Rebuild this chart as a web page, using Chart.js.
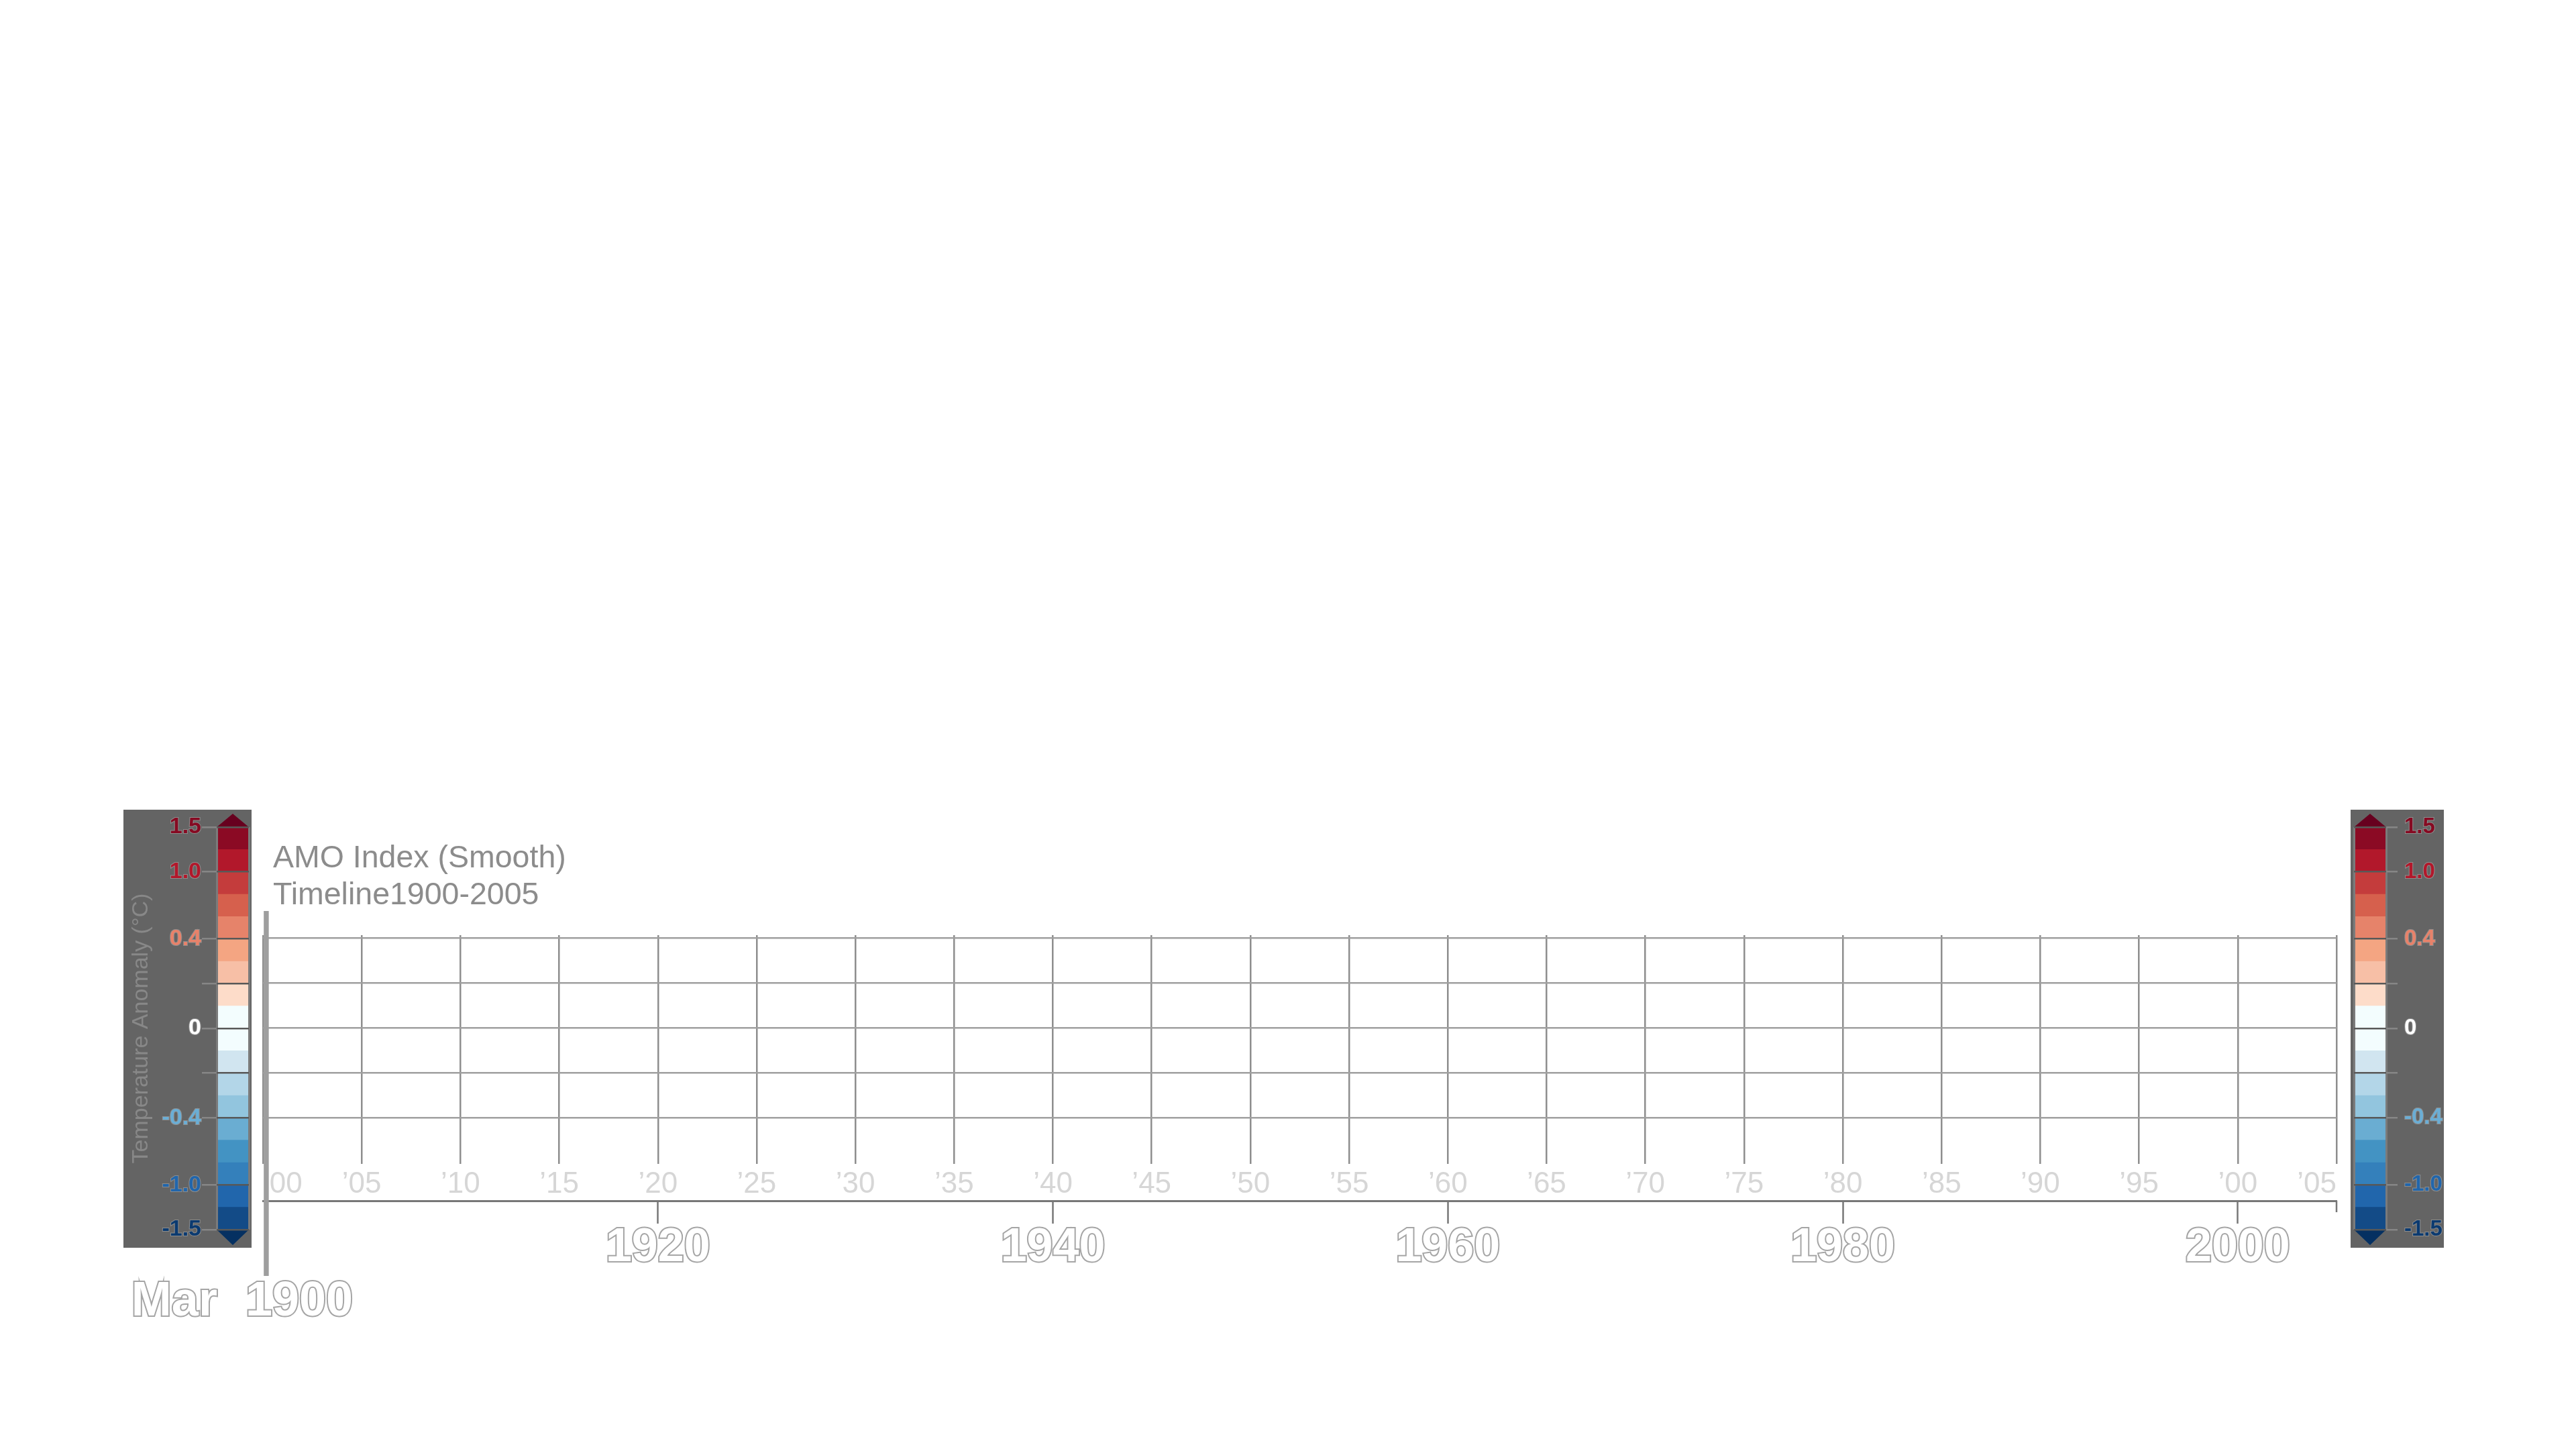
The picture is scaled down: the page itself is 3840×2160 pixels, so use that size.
<!DOCTYPE html>
<html>
<head>
<meta charset="utf-8">
<title>AMO Index (Smooth)</title>
<script src="https://cdn.jsdelivr.net/npm/chart.js@4.4.1/dist/chart.umd.min.js"></script>
<style>
    html, body { margin: 0; padding: 0; background: #ffffff; }
    body { width: 3840px; height: 2160px; position: relative; overflow: hidden; }
    canvas { position: absolute; }
    #mainChart { left: 0; top: 0; }
    .cbar { background: #646464; }
    #cbLeft { left: 184px; top: 1207px; }
    #cbRight { left: 3504px; top: 1207px; }
</style>
</head>
<body>
<canvas id="mainChart" width="3840" height="2160"></canvas>
<canvas id="cbLeft" class="cbar" width="191" height="653"></canvas>
<canvas id="cbRight" class="cbar" width="139" height="653"></canvas>
<script>
// Textes du graphique
const titleText = 'AMO Index (Smooth)';
const subtitleText = 'Timeline1900-2005';
const cbTitle = 'Temperature Anomaly (°C)';

// Axe du temps
const startYear = 1900;
const endYear = 2005;
const majorYears = [1920, 1940, 1960, 1980, 2000];
const gridValues = [-0.4, -0.2, 0, 0.2, 0.4];

// Image courante de l'animation : mars 1900
const currentMonth = 'Mar';
const currentMonthIndex = 2;
const currentYear = 1900;

// Série AMO : rien n'est encore tracé à cette date
const amoTimes = [];
const amoValues = [];

// Échelle de couleurs (de bas en haut)
const cbBounds = [-1.5, -1.25, -1.0, -0.8, -0.6, -0.4, -0.3, -0.2, -0.1, 0, 0.1, 0.2, 0.3, 0.4, 0.6, 0.8, 1.0, 1.25, 1.5];
const cbColors = ['#134b87', '#2166ac', '#3480bb', '#4393c3', '#6aadd2', '#92c5de', '#b3d6e8', '#d1e5f0', '#f3fdfe',
                  '#f3fdfe', '#fddcc9', '#f7bfa6', '#f4a582', '#e6836a', '#d6604d', '#c43c3c', '#b2182b', '#8b0a24'];
const cbUnderColor = '#053061';
const cbOverColor = '#67001f';
const cbTickValues = [-1.5, -1.0, -0.4, -0.2, 0, 0.2, 0.4, 1.0, 1.5];
const cbTickLabels = ['-1.5', '-1.0', '-0.4', '', '0', '', '0.4', '1.0', '1.5'];
const cbTickColors = ['#0b3a70', '#2166ac', '#6aaed6', '#ffffff', '#ffffff', '#ffffff', '#e8826a', '#b2182b', '#860a22'];

const fontFamily = "'Liberation Sans', Arial, Helvetica, sans-serif";
Chart.defaults.font.family = fontFamily;

// Triangles aux deux bouts de l'échelle
const colorbarEnds = {
    id: 'colorbarEnds',
    afterDatasetsDraw(chart) {
        const { ctx, chartArea, scales } = chart;
        const yTop = scales.y.getPixelForValue(cbBounds.length - 1);
        const yBottom = scales.y.getPixelForValue(0);
        const mid = (chartArea.left + chartArea.right) / 2;
        ctx.save();
        ctx.fillStyle = cbOverColor;
        ctx.beginPath();
        ctx.moveTo(chartArea.left, yTop);
        ctx.lineTo(mid, yTop - 20);
        ctx.lineTo(chartArea.right, yTop);
        ctx.closePath();
        ctx.fill();
        ctx.fillStyle = cbUnderColor;
        ctx.beginPath();
        ctx.moveTo(chartArea.left, yBottom);
        ctx.lineTo(mid, yBottom + 23);
        ctx.lineTo(chartArea.right, yBottom);
        ctx.closePath();
        ctx.fill();
        ctx.restore();
    }
};

// Fonction pour créer une barre de couleurs
function createColorbar(canvasId, side) {
    const isLeft = side === 'left';
    return new Chart(document.getElementById(canvasId), {
        type: 'bar',
        data: {
            labels: [''],
            datasets: cbColors.map((color, i) => ({
                data: [[i, i + 1]],
                backgroundColor: color,
                borderWidth: 0,
                barPercentage: 1,
                categoryPercentage: 1,
                grouped: false
            }))
        },
        options: {
            responsive: false,
            animation: false,
            events: [],
            layout: {
                padding: isLeft ? { left: 0, right: 4, top: 26, bottom: 27 } : { left: 5, right: 0, top: 26, bottom: 27 }
            },
            plugins: { legend: { display: false }, tooltip: { enabled: false } },
            scales: {
                x: {
                    type: 'category',
                    offset: true,
                    grid: { offset: true, color: '#7b7b7b', lineWidth: 3, drawTicks: false, z: 1 },
                    border: { display: false },
                    ticks: { display: false },
                    afterFit: s => { s.height = 0; }
                },
                y: {
                    type: 'linear',
                    position: side,
                    min: 0,
                    max: cbBounds.length - 1,
                    afterBuildTicks: s => { s.ticks = cbTickValues.map(v => ({ value: cbBounds.indexOf(v) })); },
                    afterFit: s => {
                        s.width = isLeft ? 139 : 86;
                        // pas de marge en plus pour les étiquettes : la barre garde la même hauteur des deux côtés
                        s.paddingTop = 0;
                        s.paddingBottom = 0;
                    },
                    grid: {
                        color: '#585858', lineWidth: 2.5, z: 1,
                        drawTicks: true, tickLength: isLeft ? 22 : 17, tickColor: '#868686', tickWidth: 2.5
                    },
                    border: { display: false },
                    ticks: {
                        autoSkip: false,
                        callback: (v, i) => cbTickLabels[i],
                        color: c => cbTickColors[c.index],
                        font: { size: isLeft ? 34 : 33, weight: 'bold' },
                        padding: isLeft ? 1 : 10,
                        textStrokeColor: 'rgba(175,175,175,0.55)',
                        textStrokeWidth: 2
                    },
                    title: {
                        display: isLeft,
                        text: cbTitle,
                        color: '#888888',
                        font: { size: 34 },
                        padding: { top: 6, bottom: 0 }
                    }
                }
            }
        },
        plugins: [colorbarEnds]
    });
}

// Titre, curseur du temps et date courante
const timelinePlugin = {
    id: 'timeline',
    afterDraw(chart) {
        const { ctx, chartArea: area, scales: { x, x2 } } = chart;
        ctx.save();
        ctx.font = `46.5px ${fontFamily}`;
        ctx.fillStyle = '#8c8c8c';
        ctx.textBaseline = 'alphabetic';
        ctx.textAlign = 'left';
        ctx.fillText(titleText, area.left + 15, area.top - 101);
        ctx.fillText(subtitleText, area.left + 15, area.top - 46);

        // petit trait en bout d'axe
        const xEnd = x2.getPixelForValue(endYear);
        ctx.strokeStyle = '#777777';
        ctx.lineWidth = 2.5;
        ctx.beginPath();
        ctx.moveTo(xEnd, x2.top);
        ctx.lineTo(xEnd, x2.top + 17);
        ctx.stroke();

        // curseur
        const cx = x.getPixelForValue(currentYear + currentMonthIndex / 12);
        ctx.strokeStyle = '#9e9e9e';
        ctx.lineWidth = 7.5;
        ctx.beginPath();
        ctx.moveTo(cx, area.top - 36);
        ctx.lineTo(cx, x2.top + 112);
        ctx.stroke();

        // date courante
        ctx.font = `bold 72px ${fontFamily}`;
        ctx.lineWidth = 4;
        ctx.strokeStyle = '#a5a5a5';
        ctx.fillStyle = '#ffffff';
        ctx.textAlign = 'right';
        ctx.strokeText(currentMonth, cx - 73, x2.top + 171);
        ctx.fillText(currentMonth, cx - 73, x2.top + 171);
        ctx.textAlign = 'left';
        ctx.strokeText(String(currentYear), cx - 31, x2.top + 171);
        ctx.fillText(String(currentYear), cx - 31, x2.top + 171);
        ctx.restore();
    }
};

new Chart(document.getElementById('mainChart'), {
    type: 'line',
    data: {
        datasets: [{
            label: titleText,
            data: amoTimes.map((t, i) => ({ x: t, y: amoValues[i] })),
            borderColor: '#b2182b',
            borderWidth: 4,
            pointRadius: 0
        }]
    },
    options: {
        responsive: false,
        animation: false,
        events: [],
        layout: { padding: { left: 392, right: 357, top: 1394, bottom: 250 } },
        plugins: { legend: { display: false }, tooltip: { enabled: false } },
        scales: {
            x: {
                type: 'linear',
                min: startYear,
                max: endYear,
                ticks: {
                    stepSize: 5,
                    autoSkip: false,
                    maxRotation: 0,
                    align: 'inner',
                    padding: 4,
                    color: '#d6d6d6',
                    font: { size: 44 },
                    callback: v => '\u2019' + String(Math.round(v)).slice(2)
                },
                grid: { color: '#8e8e8e', lineWidth: 2.5, drawTicks: false },
                border: { display: false },
                afterFit: s => { s.height = 55; }
            },
            x2: {
                type: 'linear',
                position: 'bottom',
                min: startYear,
                max: endYear,
                afterBuildTicks: s => { s.ticks = majorYears.map(v => ({ value: v })); },
                ticks: {
                    autoSkip: false,
                    maxRotation: 0,
                    callback: v => String(v),
                    color: '#ffffff',
                    textStrokeColor: '#a5a5a5',
                    textStrokeWidth: 4,
                    font: { size: 70, weight: 'bold', lineHeight: 1 },
                    padding: 2
                },
                grid: { drawOnChartArea: false, drawTicks: true, tickLength: 34, tickColor: '#777777', tickWidth: 2.5 },
                border: { display: true, color: '#777777', width: 3 },
                afterFit: s => { s.height = 120; }
            },
            y: {
                type: 'linear',
                min: -0.607,
                max: 0.413,
                afterBuildTicks: s => { s.ticks = gridValues.map(v => ({ value: v })); },
                ticks: { display: false },
                grid: { color: '#a0a0a0', lineWidth: 2.5, drawTicks: false },
                border: { display: false },
                afterFit: s => { s.width = 0; }
            }
        }
    },
    plugins: [timelinePlugin]
});

createColorbar('cbLeft', 'left');
createColorbar('cbRight', 'right');
</script>
</body>
</html>
